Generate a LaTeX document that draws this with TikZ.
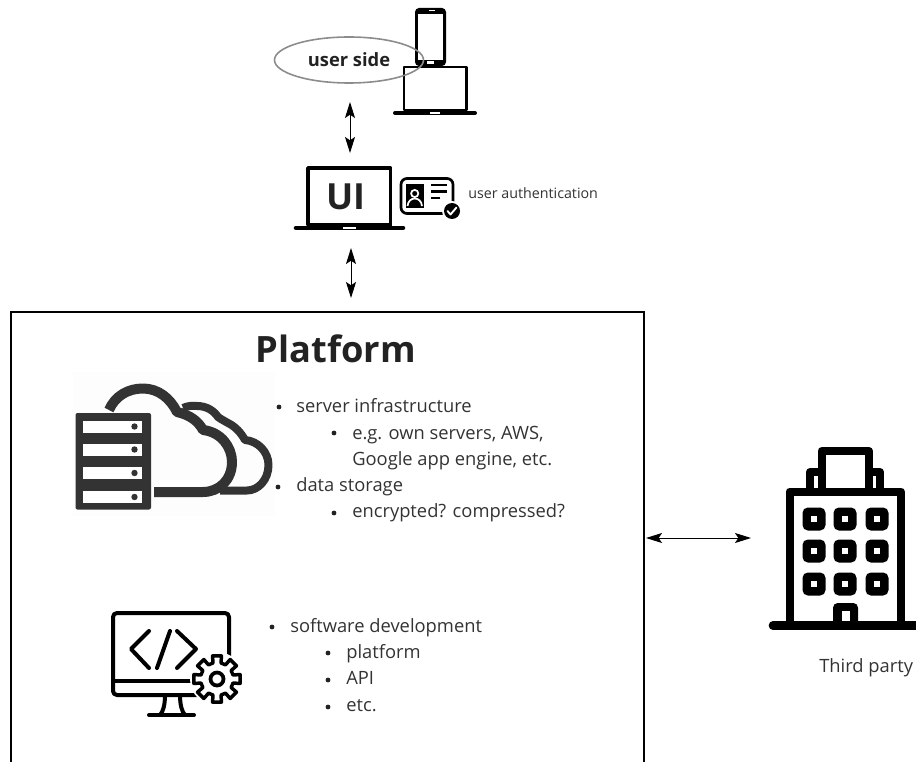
\documentclass[tikz,border=0pt]{standalone}
\usepackage{fontspec}
\setmainfont{Open Sans}
\usetikzlibrary{arrows.meta,shapes.geometric}
\definecolor{txt}{HTML}{333333}
\definecolor{ttl}{HTML}{222222}
\definecolor{srv}{HTML}{333333}
\tikzset{
  body/.style={anchor=base west,inner sep=0pt,text=txt,font=\fontsize{13.75}{16}\selectfont},
  dotb/.style={fill=ttl,draw=none,circle,inner sep=0pt,minimum size=3.6pt},
  link/.style={draw=black,line width=0.75pt,{Stealth[length=12pt,width=7.5pt,inset=2.5pt]}-{Stealth[length=12pt,width=7.5pt,inset=2.5pt]}},
  icon/.style={draw=black,line cap=round,line join=round}
}
\begin{document}
\begin{tikzpicture}[x=0.75pt,y=-0.75pt]
\useasboundingbox (0,0) rectangle (916,762);
% platform box (open at bottom)
\coordinate (pbl) at (10.5,762);
\coordinate (pbr) at (644,762);
\draw[line width=1.5pt,draw=black] (pbl) -- (10.5,312) -- (644,312) -- (pbr);
\node[anchor=base,inner sep=0pt,text=ttl,font=\fontsize{27.2}{32}\selectfont\bfseries] (platform) at (336,363) {Platform};

% phone + laptop
\fill[black,rounded corners=3pt] (415,8) rectangle (446,66);
\fill[white] (418,14) rectangle (443,60);
\fill[white] (426.5,61.5) rectangle (433.5,64.5);
\fill[white] (429,10) rectangle (435,11);
\draw[icon,line width=2.2pt] (404,67) rectangle (466.5,110);
\draw[icon,line width=3pt] (395,113) -- (475,113);
\fill[white] (430,112) rectangle (440,114);
\node[ellipse,draw=black!45,line width=1.2pt,minimum width=149*0.75pt,minimum height=46*0.75pt,inner sep=0pt] (side) at (349,60) {};
\node[inner sep=0pt,text=ttl,font=\fontsize{13.75}{16}\selectfont\bfseries] (sidet) at (349,60) {user side};

% UI laptop
\draw[icon,line width=2.6pt] (308,168) rectangle (390.5,225);
\draw[icon,line width=3.4pt] (296,228) -- (403,228);
\fill[white] (343,227) rectangle (356,229);
\node[inner sep=0pt,text=ttl,font=\fontsize{27}{32}\selectfont\bfseries] (ui) at (346,197) {UI};

% id card
\draw[icon,line width=2pt,rounded corners=4.5pt] (401,178.5) rectangle (453,213.5);
\fill[black] (406,184) rectangle (424,208);
\draw[white,line width=1.3pt] (414.7,193.5) circle (3.6);
\draw[white,line width=1.3pt] (407.5,206) .. controls (408.5,196) and (421,196) .. (422,206);
\draw[black,line width=1.7pt] (431,185) -- (447,185) (431,191.5) -- (447,191.5) (431,198) -- (440,198);
\fill[white] (452,211) circle (10);
\fill[black] (452,211) circle (8);
\draw[white,line width=1.4pt,line cap=round,line join=round] (447.5,211) -- (450.5,214.5) -- (456.5,207.5);
\node[anchor=base west,inner sep=0pt,text=txt,font=\fontsize{10.7}{12}\selectfont] (auth) at (468,199) {user authentication};

% arrows
\coordinate (a1a) at (350,102); \coordinate (a1b) at (350,153);
\coordinate (a2a) at (351,248); \coordinate (a2b) at (351,298);
\coordinate (a3a) at (646,538); \coordinate (a3b) at (751,538);
\draw[link] (a1a) -- (a1b);
\draw[link] (a2a) -- (a2b);
\draw[link] (a3a) -- (a3b);

% cloud / server icon
\fill[black!0.8] (73,372) rectangle (275,516);
\draw[draw=srv,line width=6pt,line join=round] (183,408) .. controls (190,405) and (193,406) .. (197,406)
  .. controls (207,406) and (214,411) .. (218,417)
  .. controls (222,420) and (225,421) .. (228,423)
  .. controls (236,427) and (241,433) .. (245,440)
  .. controls (258,441) and (268.5,452) .. (268.5,465)
  .. controls (268.5,480) and (258,490.5) .. (247,490.5) -- (220,490.5);
\draw[draw=srv,line width=7.5pt,line join=round,fill=black!0.8] (109,410) .. controls (115,396) and (128,388.5) .. (143,388.5)
  .. controls (158,388.5) and (170,398) .. (177,412)
  .. controls (190,415) and (198,421) .. (203,430)
  .. controls (221,432) and (232,447) .. (232,462)
  .. controls (232,480) and (219,492) .. (203,492) -- (154,492);
\fill[srv,rounded corners=1.5pt] (75.5,413) rectangle (151,509.5);
\foreach \yy in {420.5,443.5,467,491}{
  \fill[white] (82.5,\yy) rectangle (142,\yy+12);
  \fill[srv] (134.5,\yy+6) circle (3.2);
}

% body text 1
\node[dotb] (b1) at (279,407) {};
\node[body] (t1) at (296,412) {server infrastructure};
\node[dotb] (b2) at (334,433) {};
\node[body] (t2) at (352,439) {e.g. own servers, AWS,};
\node[body] (t3) at (352,465) {Google app engine, etc.};
\node[dotb] (b3) at (278,487) {};
\node[body] (t4) at (296,491) {data storage};
\node[dotb] (b4) at (334,513) {};
\node[body] (t5) at (352,517) {encrypted? compressed?};

% code icon
\draw[icon,line width=3pt,rounded corners=3pt] (113,613) rectangle (229,695);
\draw[icon,line width=3pt] (113,681) -- (200,681);
\draw[icon,line width=3pt] (149,631) -- (131,649) -- (149,668);
\draw[icon,line width=3pt] (170,631) -- (157,668);
\draw[icon,line width=3pt] (177,631) -- (196,649) -- (177,668);
\draw[icon,line width=3pt] (165,695) .. controls (165,705) and (163,712) .. (160,715);
\draw[icon,line width=3pt] (180,695) .. controls (180,705) and (182,712) .. (185,715);
\draw[icon,line width=3pt] (149,715) -- (194,715);
\begin{scope}[shift={(217,679)}]
  \fill[white] (0,0) circle (27);
  \draw[black,line width=2.6pt,line join=round,fill=white]
    (-11:23.5) \foreach \a in {0,45,...,315}{
      -- (\a-11:23.5) -- (\a+11:23.5) -- (\a+14:16.5) -- (\a+31:16.5)
    } -- cycle;
  \draw[black,line width=2.8pt] (0,0) circle (6.5);
\end{scope}

% body text 2
\node[dotb] (b5) at (272,627) {};
\node[body] (t6) at (290,632) {software development};
\node[dotb] (b6) at (328,653) {};
\node[body] (t7) at (346,658) {platform};
\node[dotb] (b7) at (328,680) {};
\node[body] (t8) at (346,684) {API};
\node[dotb] (b8) at (328,707) {};
\node[body] (t9) at (346,711) {etc.};

% building
\begin{scope}[line width=6pt,draw=black,line join=round,line cap=round]
\draw (810,492) -- (810,472) -- (880,472) -- (880,492);
\fill[white] (815.5,477) rectangle (874.5,489);
\draw (821.5,492) -- (821.5,451) -- (869,451) -- (869,492);
\fill[white] (826,455.5) rectangle (865,488);
\draw (789.5,625) -- (789.5,491.5) -- (901,491.5) -- (901,625);
\end{scope}
\draw[black,line width=6.5pt,line cap=round] (773,625.5) -- (920,625.5);
\foreach \xx in {814,845,877}{
 \foreach \yy in {519,551,584}{
  \fill[black,rounded corners=4pt] (\xx-11.5,\yy-11.5) rectangle (\xx+11.5,\yy+11.5);
  \fill[white] (\xx-2.6,\yy-2.6) rectangle (\xx+2.6,\yy+2.6);
 }
}
\fill[black,rounded corners=3.5pt] (833,603) -- (858,603) -- (858,626) -- (833,626) -- cycle;
\fill[white] (841.5,611) rectangle (850,621);
\node[anchor=base west,inner sep=0pt,text=txt,font=\fontsize{13.75}{16}\selectfont] (third) at (819,672) {Third party};
\end{tikzpicture}
\end{document}
